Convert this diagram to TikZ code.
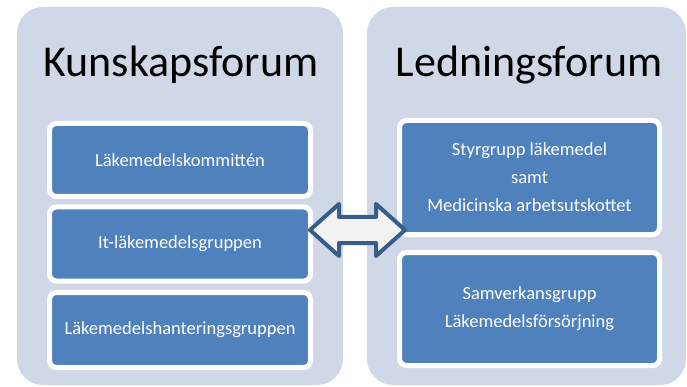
\documentclass[tikz,border=0pt]{standalone}
\usepackage{fontspec}
\setmainfont{Carlito}
\usetikzlibrary{positioning}
\definecolor{panelgrey}{RGB}{208,216,232}
\definecolor{boxblue}{RGB}{79,129,189}
\definecolor{arrowline}{RGB}{56,93,138}
\definecolor{arrowfill}{RGB}{242,242,242}

\begin{document}
\begin{tikzpicture}[x=1pt, y=-1pt,
  panel/.style={fill=panelgrey, rounded corners=26pt, inner sep=0pt, minimum height=378pt},
  forumtitle/.style={anchor=base, font=\fontsize{44}{52}\selectfont},
  groupbox/.style={fill=boxblue, draw=white, line width=5pt, rounded corners=7pt,
    text=white, font=\fontsize{18.5}{28}\selectfont, align=center, inner sep=0pt}]
  \useasboundingbox (0,0) rectangle (687,387);
  % the two forums
  \node[panel, minimum width=326pt] (kunskap) at (180,196) {};
  \node[panel, minimum width=319pt] (ledning) at (526.5,196) {};
  \node[forumtitle] (kunskaptitle) at (181,77) {Kunskapsforum};
  \node[forumtitle] (ledningtitle) at (529,77) {Ledningsforum};
  % groups in Kunskapsforum
  \node[groupbox, minimum width=261pt, minimum height=73pt] (kommitte) at (180,160) {Läkemedelskommittén};
  \node[groupbox, minimum width=261pt, minimum height=74pt] (itgrupp) at (180,244) {It-läkemedelsgruppen};
  \node[groupbox, minimum width=261pt, minimum height=75pt] (hantering) at (180,330) {Läkemedelshanteringsgruppen};
  % groups in Ledningsforum
  \node[groupbox, minimum width=260pt, minimum height=114pt] (styrgrupp) at (529.5,177.5)
    {Styrgrupp läkemedel\\samt\\Medicinska arbetsutskottet};
  \node[groupbox, minimum width=260pt, minimum height=113pt] (samverkan) at (529.5,309)
    {Samverkansgrupp\\Läkemedelsförsörjning};
  % block arrow between the forums
  \draw[arrowline, fill=arrowfill, line width=4pt, line join=round]
    (310,230) -- (339,204) -- (339,217) -- (376,217) -- (376,204) -- (405,230)
    -- (376,256) -- (376,243) -- (339,243) -- (339,256) -- cycle;
\end{tikzpicture}
\end{document}
